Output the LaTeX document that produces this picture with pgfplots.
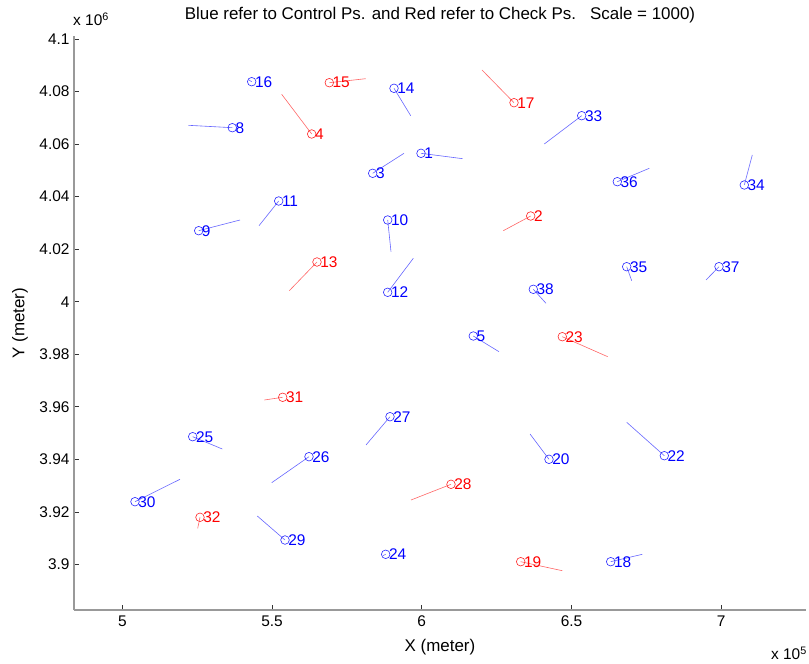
\documentclass[border=0pt]{standalone}
\usepackage{pgfplots}
\usepackage{pgfplotstable}
\pgfplotsset{compat=1.18}
\usepackage{fontspec}
\setmainfont{Liberation Sans}

% control points: position, scaled error vector (u,v), point number
\pgfplotstableread{
x y u v lab
599736 4056481 13924 -2055 1
583609 4048869 10451 7612 3
617199 3986945 8581 -5975 5
536729 4066224 -14692 914 8
525510 4027023 13790 4072 9
588617 4031095 1102 -12065 10
552222 4038326 -6578 -9400 11
588617 4003578 8548 12940 12
590721 4081220 5576 -10428 14
543207 4083732 -1000 700 16
663077 3901044 10551 2816 18
642475 3940017 -6344 9630 20
680974 3941388 -12555 12712 22
587950 3903860 -900 -500 24
523507 3948619 9883 -4681 25
562339 3941007 -12454 -9896 26
589385 3956231 -8014 -10771 27
554326 3909303 -9249 9134 29
504241 3923880 15025 8525 30
653393 4070792 -12487 -10771 33
707686 4044416 2671 11418 34
668419 4013321 1670 -5328 35
665281 4045672 10685 5100 36
699238 4013321 -4341 -5062 37
637233 4004719 4240 -5328 38
}\ctrl

% check points
\pgfplotstableread{
x y u v lab
636365 4032617 -9149 -5594 2
563241 4063827 -10018 15109 4
565010 4015110 -9249 -10923 13
569117 4083351 12154 1523 15
630789 4075739 -10685 12446 17
633026 3901044 13890 -3425 19
646916 3986679 15159 -7612 23
609753 3930502 -13356 -5975 28
553558 3963615 -6144 -1028 31
525944 3917943 -768 -4187 32
}\chk

\begin{document}
\begin{tikzpicture}
\path[use as bounding box] (-74bp,-54bp) rectangle (735bp,610bp);
\begin{axis}[
 at={(0,0)}, anchor=south west,
 scale only axis, width=732bp, height=574bp,
 xmin=483873, xmax=728288, ymin=3882661, ymax=4101126,
 axis lines=left,
 axis line style={-, draw=black!40, line width=1.1bp},
 tick align=inside, major tick length=5bp,
 tick style={black!80, line width=0.6bp},
 scaled ticks=false,
 xtick={500000,550000,600000,650000,700000},
 xticklabels={5,5.5,6,6.5,7},
 ytick={3900000,3920000,3940000,3960000,3980000,4000000,4020000,4040000,4060000,4080000,4100000},
 yticklabels={3.9,3.92,3.94,3.96,3.98,4,4.02,4.04,4.06,4.08,4.1},
 font=\fontsize{15.5}{18}\selectfont,
 /pgf/number format/assume math mode=true,
 xticklabel style={yshift=-2bp},
 yticklabel style={xshift=-1bp},
 xlabel={X (meter)},
 xlabel style={at={(axis description cs:0.5,-0.0645)}, anchor=center, font=\fontsize{17}{20}\selectfont},
 ylabel={Y (meter)},
 ylabel style={at={(axis description cs:-0.0738,0.5)}, anchor=center, font=\fontsize{17}{20}\selectfont},
 title={Blue refer to Control Ps. and Red refer to Check Ps.\ \ \ Scale = 1000)},
 title style={at={(axis description cs:0.5,1.0261)}, anchor=center, font=\fontsize{17}{20}\selectfont},
 clip=false,
]
\addplot[blue!60, line width=0.6bp, quiver={u=\thisrow{u}, v=\thisrow{v}}] table[x=x, y=y] {\ctrl};
\addplot[red!60, line width=0.6bp, quiver={u=\thisrow{u}, v=\thisrow{v}}] table[x=x, y=y] {\chk};

\addplot[only marks, mark=o, mark size=4.3bp, blue!85, mark options={line width=0.6bp},
 nodes near coords, point meta=explicit symbolic,
 every node near coord/.style={anchor=west, inner sep=0pt, xshift=3bp, text=blue, font=\fontsize{15.5}{18}\selectfont}]
 table[x=x, y=y, meta=lab] {\ctrl};
\addplot[only marks, mark=o, mark size=4.3bp, red!85, mark options={line width=0.6bp},
 nodes near coords, point meta=explicit symbolic,
 every node near coord/.style={anchor=west, inner sep=0pt, xshift=3bp, text=red, font=\fontsize{15.5}{18}\selectfont}]
 table[x=x, y=y, meta=lab] {\chk};

\node[anchor=west, inner sep=0pt] at (axis description cs:-0.0014,1.0296) {x 10\textsuperscript{6}};
\node[anchor=east, inner sep=0pt] at (axis description cs:1.0014,-0.0749) {x 10\textsuperscript{5}};
\end{axis}
\end{tikzpicture}
\end{document}
